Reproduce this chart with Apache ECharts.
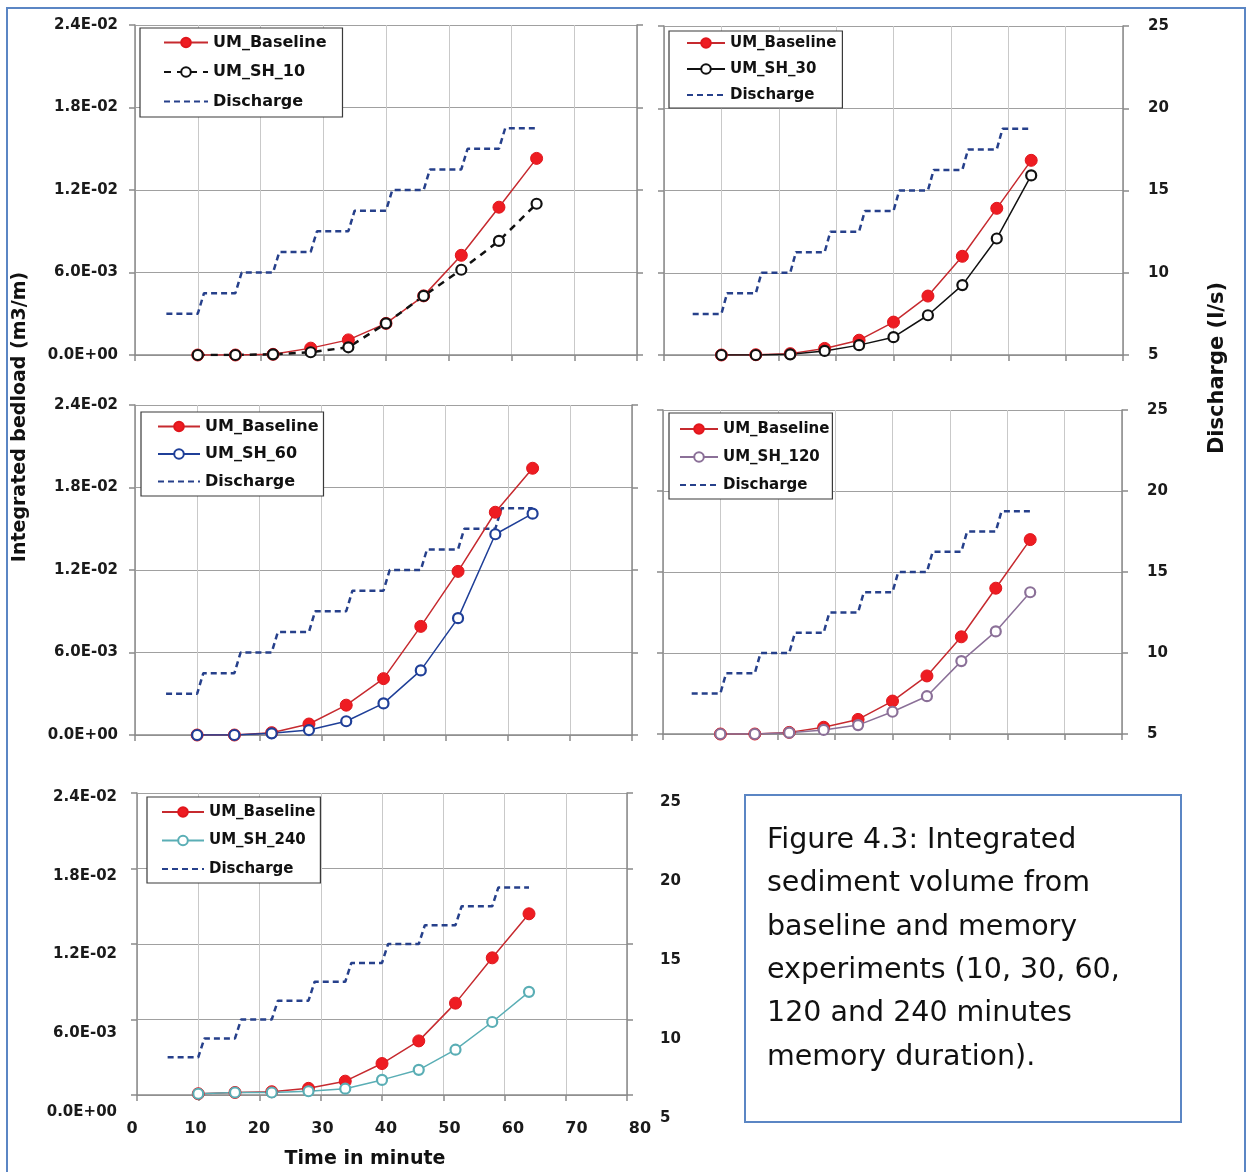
<!DOCTYPE html>
<html>
<head>
<meta charset="utf-8">
<script src="https://cdn.jsdelivr.net/npm/echarts@6/dist/echarts.min.js"></script>
<style>
  html, body { margin: 0; padding: 0; background: #fff; }
  #chart { width: 1253px; height: 1172px; }
</style>
</head>
<body>
<div id="chart"></div>
<script>
// Sampling times of the bedload measurements (minutes)
const sampleTimes = [10, 16, 22, 28, 34, 40, 46, 52, 58, 64];

// Integrated bedload (m3/m), one baseline + one memory run per panel
const baselineSH10 = [0, 0, 0.00005, 0.0005, 0.0011, 0.0023, 0.0043, 0.00725, 0.01075, 0.0143];
const umSH10 = [0, 0, 0.00005, 0.0002, 0.00056, 0.0023, 0.0043, 0.0062, 0.0083, 0.0110];

const baselineSH30 = [0, 0.00002, 0.0001, 0.00048, 0.00108, 0.0024, 0.0043, 0.0072, 0.0107, 0.0142];
const umSH30 = [0, 0, 0.00005, 0.0003, 0.00072, 0.0013, 0.0029, 0.0051, 0.0085, 0.0131];

const baselineSH60 = [0, 0, 0.00017, 0.0008, 0.00217, 0.0041, 0.0079, 0.0119, 0.0162, 0.0194];
const umSH60 = [0, 0, 0.00012, 0.00036, 0.001, 0.0023, 0.0047, 0.0085, 0.0146, 0.0161];

const baselineSH120 = [0, 0, 0.00012, 0.0005, 0.00108, 0.00244, 0.0043, 0.0072, 0.0108, 0.0144];
const umSH120 = [0, 0, 0.0001, 0.0003, 0.00066, 0.00165, 0.0028, 0.0054, 0.0076, 0.0105];

const baselineSH240 = [0.0001, 0.0002, 0.00026, 0.00053, 0.0011, 0.0025, 0.0043, 0.0073, 0.0109, 0.0144];
const umSH240 = [0.0001, 0.0002, 0.0002, 0.0003, 0.0005, 0.0012, 0.0020, 0.0036, 0.0058, 0.0082];

// Stepped discharge hydrograph (l/s)
const dischargeTimes = [5, 10, 11, 16, 17, 22, 23, 28, 29, 34, 35, 40, 41, 46, 47, 52, 53, 58, 59, 64];
const dischargeValues = [7.5, 7.5, 8.75, 8.75, 10, 10, 11.25, 11.25, 12.5, 12.5,
                         13.75, 13.75, 15, 15, 16.25, 16.25, 17.5, 17.5, 18.75, 18.75];

// Axis ticks
const timeTicks = { min: 0, max: 80, interval: 10 };
const bedloadTicks = { min: 0, max: 0.024, interval: 0.006 };
const dischargeTicks = { min: 5, max: 25, interval: 5 };

const captionLines = [
  'Figure 4.3: Integrated',
  'sediment volume from',
  'baseline and memory',
  'experiments (10, 30, 60,',
  '120 and 240 minutes',
  'memory duration).'
];

const FONT = "'DejaVu Sans', sans-serif";

// 0.006 -> "6.0E-03"
function sci(v) {
  const parts = Number(v).toExponential(1).toUpperCase().split('E');
  const sign = parts[1][0] === '-' ? '-' : '+';
  const digits = parts[1].replace(/[+-]/, '');
  return parts[0] + 'E' + sign + (digits.length < 2 ? '0' + digits : digits);
}
function pairs(xs, ys) { return xs.map((x, i) => [x, ys[i]]); }

// panel layout: plot rectangles in pixels, legend box placement
const panels = [
  { name: 'UM_SH_10', data: umSH10, base: baselineSH10, color: '#111111', dashed: true,
    rect: { left: 135, top: 25, width: 502, height: 330 }, leftLabels: true, rightLabels: false,
    legend: { left: 140, top: 28, pad: [5, 16, 6, 23], iw: 44, fs: 16, lh: 19, gap: 10.5 } },
  { name: 'UM_SH_30', data: umSH30, base: baselineSH30, color: '#111111', dashed: false,
    rect: { left: 664, top: 26, width: 459, height: 329 }, leftLabels: false, rightLabels: true,
    legend: { left: 669, top: 31, pad: [3, 6, 4, 17], iw: 38, fs: 15, lh: 18, gap: 8 } },
  { name: 'UM_SH_60', data: umSH60, base: baselineSH60, color: '#1f3f98', dashed: false,
    rect: { left: 135, top: 405, width: 497, height: 330 }, leftLabels: true, rightLabels: false,
    legend: { left: 141, top: 412, pad: [5, 5, 5, 16], iw: 42, fs: 16, lh: 19, gap: 8.5 } },
  { name: 'UM_SH_120', data: umSH120, base: baselineSH120, color: '#8b7098', dashed: false,
    rect: { left: 663, top: 410, width: 459, height: 324 }, leftLabels: false, rightLabels: true,
    legend: { left: 669, top: 413, pad: [7, 3, 5, 10], iw: 38, fs: 15, lh: 18, gap: 10 } },
  { name: 'UM_SH_240', data: umSH240, base: baselineSH240, color: '#5aaeb5', dashed: false,
    rect: { left: 137, top: 793, width: 490, height: 302 }, leftLabels: false, rightLabels: false,
    legend: { left: 147, top: 797, pad: [6, 5, 5, 14], iw: 42, fs: 15, lh: 18, gap: 10.5 } }
];

const axisGray = '#8a8a8a';
const labelStyle = { fontFamily: FONT, fontWeight: 'bold', fontSize: 15, color: '#1a1a1a' };

const grid = [], xAxis = [], yAxis = [], series = [], legend = [];

panels.forEach((p, i) => {
  grid.push(Object.assign({}, p.rect));
  xAxis.push(Object.assign({
    gridIndex: i, type: 'value',
    axisLine: { show: true, onZero: false, lineStyle: { color: axisGray, width: 1.5 } },
    axisTick: { show: true, length: 6, lineStyle: { color: axisGray, width: 1.5 } },
    axisLabel: { show: false },
    splitLine: { show: true, lineStyle: { color: '#c9c9c9', width: 1 } }
  }, timeTicks));
  const leftIdx = yAxis.length;
  yAxis.push(Object.assign({
    gridIndex: i, type: 'value', position: 'left',
    axisLine: { show: true, lineStyle: { color: axisGray, width: 1.5 } },
    axisTick: { show: true, length: 6, lineStyle: { color: axisGray, width: 1.5 } },
    axisLabel: Object.assign({ show: p.leftLabels, margin: 17, formatter: sci }, labelStyle),
    splitLine: { show: true, lineStyle: { color: '#a0a0a0', width: 1.2 } }
  }, bedloadTicks));
  const rightIdx = yAxis.length;
  yAxis.push(Object.assign({
    gridIndex: i, type: 'value', position: 'right',
    axisLine: { show: true, lineStyle: { color: axisGray, width: 1.5 } },
    axisTick: { show: true, length: 6, lineStyle: { color: axisGray, width: 1.5 } },
    axisLabel: Object.assign({ show: p.rightLabels, margin: 25 }, labelStyle),
    splitLine: { show: false }
  }, dischargeTicks));

  series.push({
    name: 'Discharge', type: 'line', xAxisIndex: i, yAxisIndex: rightIdx,
    data: pairs(dischargeTimes, dischargeValues), symbol: 'none',
    lineStyle: { color: '#26408b', width: 2.5, type: [6, 4] }, itemStyle: { color: '#26408b' },
    silent: true, animation: false
  });
  series.push({
    name: 'UM_Baseline', type: 'line', xAxisIndex: i, yAxisIndex: leftIdx,
    data: pairs(sampleTimes, p.base), symbol: 'circle', symbolSize: 12,
    lineStyle: { color: '#c62a2f', width: 1.5 },
    itemStyle: { color: '#ee1c22', borderColor: '#e0161c', borderWidth: 1 },
    silent: true, animation: false
  });
  series.push({
    name: p.name, type: 'line', xAxisIndex: i, yAxisIndex: leftIdx,
    data: pairs(sampleTimes, p.data), symbol: 'circle', symbolSize: 10,
    lineStyle: { color: p.color, width: p.dashed ? 2.5 : 1.5, type: p.dashed ? [7, 6] : 'solid' },
    itemStyle: { color: '#ffffff', borderColor: p.color, borderWidth: 2.2 },
    silent: true, animation: false
  });

  const lg = p.legend;
  legend.push({
    left: lg.left, top: lg.top, orient: 'vertical',
    backgroundColor: '#ffffff', borderColor: '#3a3a3a', borderWidth: 1.2, borderRadius: 0,
    padding: lg.pad,
    itemWidth: lg.iw, itemHeight: 12, itemGap: lg.gap,
    selectedMode: false,
    textStyle: { fontFamily: FONT, fontWeight: 'bold', fontSize: lg.fs, color: '#111', lineHeight: lg.lh },
    data: [
      'UM_Baseline',
      p.name,
      // the hydrograph is a plain dashed line: hide the legend marker
      { name: 'Discharge', itemStyle: { color: 'rgba(0,0,0,0)', borderWidth: 0, opacity: 0 } }
    ]
  });
});

// Tick labels of the bottom panel sit on their own (label-only) axes
const labelGridIdx = grid.length;
grid.push({ left: 132, top: 797, width: 508, height: 315 });
xAxis.push(Object.assign({
  gridIndex: labelGridIdx, type: 'value',
  axisLine: { show: false }, axisTick: { show: false }, splitLine: { show: false },
  axisLabel: Object.assign({ show: true, margin: 9 }, labelStyle, { fontSize: 16 })
}, timeTicks));
yAxis.push(Object.assign({
  gridIndex: labelGridIdx, type: 'value', position: 'left',
  axisLine: { show: false }, axisTick: { show: false }, splitLine: { show: false },
  axisLabel: Object.assign({ show: true, margin: 15, formatter: sci }, labelStyle)
}, bedloadTicks));

const rightLabelGridIdx = grid.length;
grid.push({ left: 627, top: 802, width: 10, height: 316 });
xAxis.push(Object.assign({ gridIndex: rightLabelGridIdx, type: 'value', show: false }, timeTicks));
yAxis.push(Object.assign({
  gridIndex: rightLabelGridIdx, type: 'value', position: 'right',
  axisLine: { show: false }, axisTick: { show: false }, splitLine: { show: false },
  axisLabel: Object.assign({ show: true, margin: 23 }, labelStyle)
}, dischargeTicks));

const graphic = [
  { type: 'rect', shape: { x: 7, y: 8, width: 1238, height: 1190 }, silent: true, z: -10,
    style: { fill: 'none', stroke: '#5b86c4', lineWidth: 2 } },
  { type: 'text', x: 20, y: 417, rotation: Math.PI / 2, silent: true,
    style: { text: 'Integrated bedload (m3/m)', font: "bold 19px " + FONT, fill: '#111',
             textAlign: 'center', textVerticalAlign: 'middle' } },
  { type: 'text', x: 1218, y: 368, rotation: Math.PI / 2, silent: true,
    style: { text: 'Discharge (l/s)', font: "bold 21px " + FONT, fill: '#111',
             textAlign: 'center', textVerticalAlign: 'middle' } },
  { type: 'text', x: 365, y: 1159, silent: true,
    style: { text: 'Time in minute', font: "bold 19px " + FONT, fill: '#111',
             textAlign: 'center', textVerticalAlign: 'middle' } },
  { type: 'rect', shape: { x: 745, y: 795, width: 436, height: 327 }, silent: true,
    style: { fill: '#ffffff', stroke: '#5b86c4', lineWidth: 2 } },
  { type: 'text', x: 767, y: 819, silent: true,
    style: { text: captionLines.join('\n'), font: "28.5px " + FONT, fill: '#111',
             lineHeight: 43.3, textAlign: 'left', textVerticalAlign: 'top' } }
];

const chart = echarts.init(document.getElementById('chart'), null, { renderer: 'canvas' });
chart.setOption({
  animation: false,
  backgroundColor: '#ffffff',
  grid, xAxis, yAxis, series, legend, graphic
});
</script>
</body>
</html>
